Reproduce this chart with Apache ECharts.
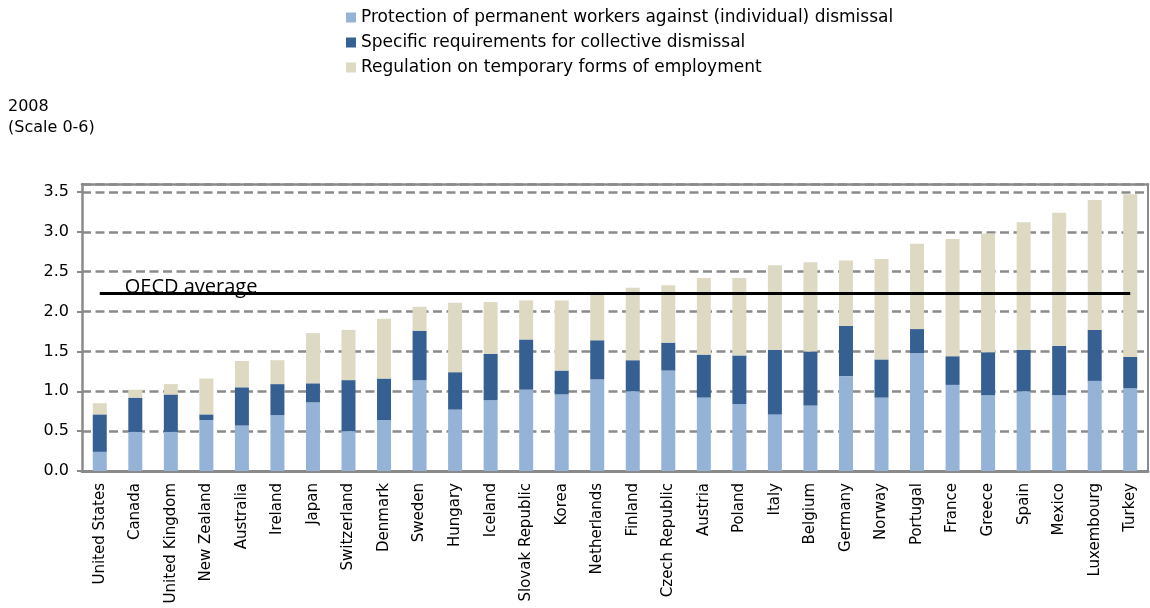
<!DOCTYPE html>
<html>
<head>
<meta charset="utf-8">
<script src="https://cdn.jsdelivr.net/npm/echarts@6/dist/echarts.min.js"></script>
<style>
html, body { margin: 0; padding: 0; background: #ffffff; }
#chart { width: 1150px; height: 608px; }
</style>
</head>
<body>
<div id="chart"></div>
<script>
const countries = ["United States", "Canada", "United Kingdom", "New Zealand", "Australia", "Ireland", "Japan", "Switzerland", "Denmark", "Sweden", "Hungary", "Iceland", "Slovak Republic", "Korea", "Netherlands", "Finland", "Czech Republic", "Austria", "Poland", "Italy", "Belgium", "Germany", "Norway", "Portugal", "France", "Greece", "Spain", "Mexico", "Luxembourg", "Turkey"];
const permanentIndividual = [0.24, 0.49, 0.49, 0.64, 0.57, 0.70, 0.86, 0.50, 0.64, 1.14, 0.77, 0.89, 1.02, 0.96, 1.15, 1.00, 1.26, 0.92, 0.84, 0.71, 0.82, 1.19, 0.92, 1.48, 1.08, 0.95, 1.00, 0.95, 1.13, 1.04];
const collectiveDismissal = [0.47, 0.43, 0.47, 0.07, 0.48, 0.39, 0.24, 0.64, 0.52, 0.62, 0.47, 0.58, 0.63, 0.30, 0.49, 0.39, 0.35, 0.54, 0.61, 0.81, 0.68, 0.63, 0.48, 0.30, 0.36, 0.54, 0.52, 0.62, 0.64, 0.39];
const temporaryEmployment = [0.14, 0.10, 0.13, 0.45, 0.33, 0.30, 0.63, 0.63, 0.75, 0.30, 0.87, 0.65, 0.49, 0.88, 0.58, 0.91, 0.72, 0.96, 0.97, 1.06, 1.12, 0.82, 1.26, 1.07, 1.47, 1.49, 1.60, 1.67, 1.63, 2.04];
const oecdAverage = 2.23;
const seriesNames = ["Protection of permanent workers against (individual) dismissal", "Specific requirements for collective dismissal", "Regulation on temporary forms of employment"];
const yMin = 0, yMax = 3.6, yInterval = 0.5;

const FONT = "DejaVu Sans";
const GRAY = "#8a8a8a";
const chart = echarts.init(document.getElementById('chart'), null, { renderer: 'canvas' });

chart.setOption({
  animation: false,
  backgroundColor: '#ffffff',
  title: {
    text: '2008\n(Scale 0-6)',
    left: 8, top: 96, padding: 0,
    textStyle: { fontFamily: FONT, fontSize: 16, fontWeight: 'normal', color: '#000', lineHeight: 21 }
  },
  legend: {
    orient: 'vertical', left: 346, top: 9, padding: 0,
    itemWidth: 10, itemHeight: 10, itemGap: 8, icon: 'rect',
    textStyle: { fontFamily: FONT, fontSize: 17, color: '#000', lineHeight: 17 },
    data: seriesNames
  },
  grid: { left: 82, right: 2, top: 184, bottom: 137, containLabel: false },
  xAxis: [{
    type: 'category', data: countries, position: 'bottom',
    axisLine: { show: true, onZero: false, lineStyle: { color: GRAY, width: 3 } },
    axisTick: { show: false },
    axisLabel: { interval: 0, rotate: 90, margin: 12, fontFamily: FONT, fontSize: 15, color: '#000' }
  }, {
    type: 'category', data: countries, position: 'top', z: 5,
    axisLine: { show: true, onZero: false, lineStyle: { color: GRAY, width: 2.5 } },
    axisTick: { show: false }, axisLabel: { show: false }
  }],
  yAxis: [{
    type: 'value', min: yMin, max: yMax, interval: yInterval, position: 'left',
    axisLine: { show: true, onZero: false, lineStyle: { color: GRAY, width: 2.5 } },
    axisTick: { show: true, length: 5, lineStyle: { color: GRAY, width: 2 } },
    axisLabel: { margin: 13, showMaxLabel: false, fontFamily: FONT, fontSize: 16, color: '#000',
      formatter: v => v.toFixed(1) },
    splitLine: { show: true, lineStyle: { color: GRAY, width: 2.5, type: [9, 4.5] } }
  }, {
    type: 'value', min: yMin, max: yMax, interval: yInterval, position: 'right', z: 5,
    axisLine: { show: true, onZero: false, lineStyle: { color: GRAY, width: 2 } },
    axisTick: { show: false }, axisLabel: { show: false }, splitLine: { show: false }
  }],
  series: [{
    name: seriesNames[0], type: 'bar', stack: 'epl', barWidth: 14,
    itemStyle: { color: '#95B3D7' }, data: permanentIndividual
  }, {
    name: seriesNames[1], type: 'bar', stack: 'epl', barWidth: 14,
    itemStyle: { color: '#376092' }, data: collectiveDismissal
  }, {
    name: seriesNames[2], type: 'bar', stack: 'epl', barWidth: 14,
    itemStyle: { color: '#DDD9C3' }, data: temporaryEmployment,
    markLine: {
      silent: true, symbol: ['none', 'none'], z: 10,
      lineStyle: { color: '#000', width: 3, type: 'solid' },
      label: {
        show: true, position: 'insideStartTop', formatter: 'OECD average',
        distance: [25, -4], fontFamily: 'Open Sans', fontSize: 20, color: '#000'
      },
      data: [[
        { coord: [countries[0], oecdAverage] },
        { coord: [countries[countries.length - 1], oecdAverage] }
      ]]
    }
  }]
});
</script>
</body>
</html>
